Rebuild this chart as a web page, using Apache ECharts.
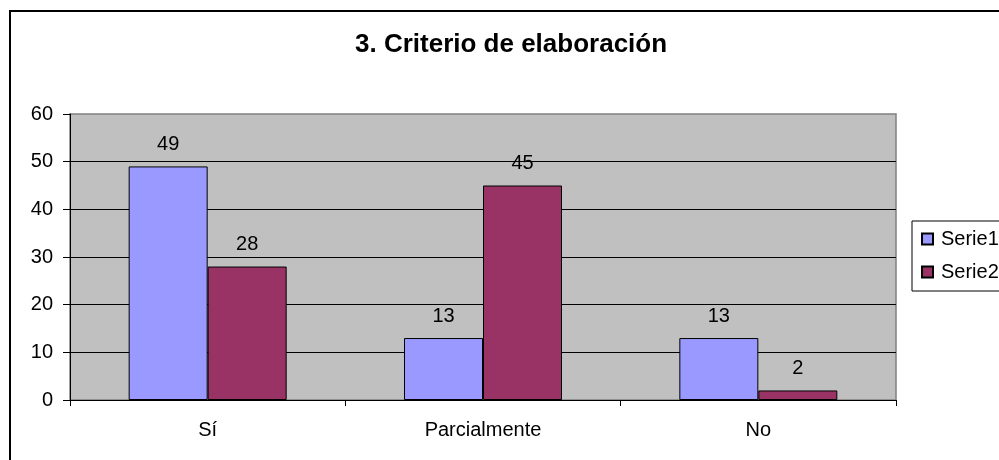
<!DOCTYPE html>
<html><head><meta charset="utf-8">
<script src="https://cdn.jsdelivr.net/npm/echarts@6/dist/echarts.min.js"></script>
<style>html,body{margin:0;padding:0;background:#fff}#c{width:999px;height:460px}</style>
</head><body><div id="c"></div>
<script>
var titleText = '3. Criterio de elaboración';
var categories = ['Sí', 'Parcialmente', 'No'];
var seriesNames = ['Serie1', 'Serie2'];
var serie1 = [49, 13, 13];
var serie2 = [28, 45, 2];
var yTicks = [0, 10, 20, 30, 40, 50, 60];

var FONT = '"Liberation Sans", Arial, sans-serif';
var chart = echarts.init(document.getElementById('c'), null, {renderer: 'canvas'});
var lbl = {show: true, position: 'top', distance: 12, color: '#000', fontSize: 20, fontFamily: FONT};
chart.setOption({
  animation: false,
  backgroundColor: '#fff',
  title: {text: titleText, left: 355, top: 32, padding: 0,
    textStyle: {fontSize: 26, fontWeight: 'bold', color: '#000', fontFamily: FONT}},
  graphic: [{type: 'rect', shape: {x: 10, y: 11, width: 1200, height: 1000},
    style: {fill: 'none', stroke: '#000', lineWidth: 2}, z: 100}],
  legend: {orient: 'vertical', left: 912, top: 221, padding: [8, 30, 9, 9], itemGap: 13,
    backgroundColor: '#fff', borderColor: '#000', borderWidth: 1,
    itemWidth: 11, itemHeight: 11, icon: 'rect',
    textStyle: {fontSize: 20, color: '#000', fontFamily: FONT, padding: [0, 0, 0, 3]},
    data: seriesNames},
  grid: {left: 70, right: 103, top: 114, bottom: 60, show: true, backgroundColor: '#C0C0C0',
    borderColor: '#808080', borderWidth: 1.5, containLabel: false},
  xAxis: {type: 'category', data: categories, boundaryGap: true,
    axisLine: {lineStyle: {color: '#000', width: 1}},
    axisTick: {show: true, length: 6, lineStyle: {color: '#000'}},
    axisLabel: {color: '#000', fontSize: 20, fontFamily: FONT, margin: 20}},
  yAxis: {type: 'value', min: yTicks[0], max: yTicks[yTicks.length - 1], interval: 10,
    axisLine: {show: true, lineStyle: {color: '#000', width: 1}},
    axisTick: {show: true, length: 7, lineStyle: {color: '#000'}},
    axisLabel: {color: '#000', fontSize: 20, fontFamily: FONT, margin: 17},
    splitLine: {show: true, showMaxLine: false, showMinLine: false, lineStyle: {color: '#000', width: 1}}},
  series: [
    {name: seriesNames[0], type: 'bar', data: serie1, barWidth: 79, barGap: '0%',
      itemStyle: {color: '#9999FF', borderColor: '#000', borderWidth: 1}, label: lbl},
    {name: seriesNames[1], type: 'bar', data: serie2, barWidth: 79, barGap: '0%',
      itemStyle: {color: '#993366', borderColor: '#000', borderWidth: 1}, label: lbl}
  ]
});
</script></body></html>
